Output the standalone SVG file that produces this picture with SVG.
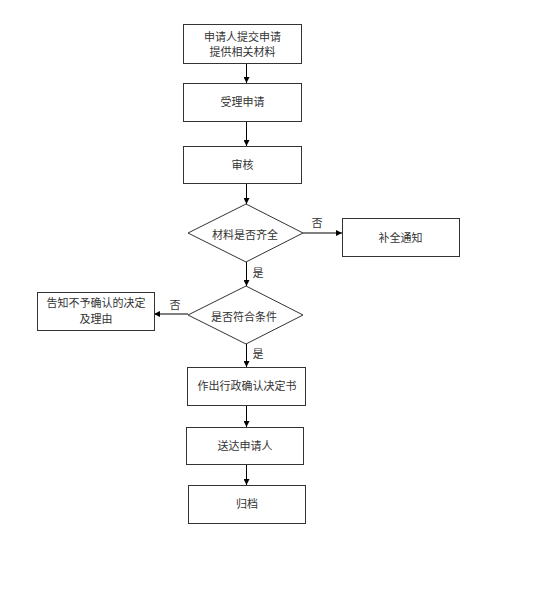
<svg xmlns="http://www.w3.org/2000/svg" width="537" height="610" viewBox="0 0 537 610">
<style>
.box{fill:#fff;stroke:#333;stroke-width:1}
.ln{stroke:#000;stroke-width:1;fill:none;marker-end:url(#ah)}
text{font-family:"Noto Sans CJK SC","Noto Sans CJK JP",sans-serif;font-size:11px;fill:#333;text-anchor:middle;dominant-baseline:central}
</style>
<defs>
<marker id="ah" viewBox="0 0 8 8" refX="8" refY="4" markerWidth="6" markerHeight="6" markerUnits="userSpaceOnUse" orient="auto">
<path d="M0,0 L8,4 L0,8 Z" fill="#000"/>
</marker>
</defs>
<rect width="537" height="610" fill="#fff"/>
<g id="connectors">
<line class="ln" x1="246.5" y1="63" x2="246.5" y2="83"/>
<line class="ln" x1="246.5" y1="121" x2="246.5" y2="146"/>
<line class="ln" x1="246.5" y1="183" x2="246.5" y2="204"/>
<line class="ln" x1="303" y1="233" x2="342" y2="233"/>
<line class="ln" x1="246.5" y1="262" x2="246.5" y2="286"/>
<line class="ln" x1="188" y1="314" x2="154" y2="314"/>
<line class="ln" x1="246.5" y1="344" x2="246.5" y2="367"/>
<line class="ln" x1="246.5" y1="405" x2="246.5" y2="427"/>
<line class="ln" x1="246.5" y1="464" x2="246.5" y2="485"/>
<text x="317" y="222">否</text>
<text x="258" y="272">是</text>
<text x="175" y="304">否</text>
<text x="258" y="353">是</text>
</g>
<g id="n1"><rect class="box" x="183.5" y="24.5" width="118" height="39"/><text x="242.5" y="36">申请人提交申请</text><text x="242.5" y="51">提供相关材料</text></g>
<g id="n2"><rect class="box" x="183.5" y="83.5" width="118" height="38"/><text x="242.5" y="101">受理申请</text></g>
<g id="n3"><rect class="box" x="183.5" y="146.5" width="118" height="37"/><text x="242.5" y="164">审核</text></g>
<g id="d1"><polygon class="box" points="246,204 303,233 246,262 188,233"/><text x="245" y="234">材料是否齐全</text></g>
<g id="n4"><rect class="box" x="342.5" y="218.5" width="117" height="38"/><text x="400.5" y="237">补全通知</text></g>
<g id="d2"><polygon class="box" points="246,286 303,315 246,344 188,315"/><text x="244" y="316">是否符合条件</text></g>
<g id="n5"><rect class="box" x="37.5" y="292.5" width="117" height="38"/><text x="96" y="302">告知不予确认的决定</text><text x="96" y="318">及理由</text></g>
<g id="n6"><rect class="box" x="187.5" y="367.5" width="118" height="38"/><text x="247" y="385">作出行政确认决定书</text></g>
<g id="n7"><rect class="box" x="186.5" y="427.5" width="117" height="37"/><text x="245" y="445">送达申请人</text></g>
<g id="n8"><rect class="box" x="188.5" y="485.5" width="117" height="38"/><text x="247" y="503">归档</text></g>
</svg>
